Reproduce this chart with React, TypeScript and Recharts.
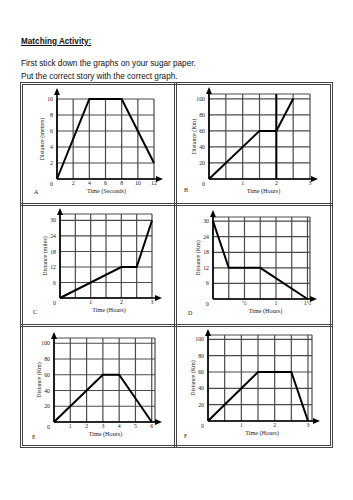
import React from 'react';
import { LineChart, Line, XAxis, YAxis, CartesianGrid, ReferenceLine, Label } from 'recharts';

// Graph A - distance (metres) against time (seconds)
const timeA = [0, 4, 8, 12];
const distanceA = [0, 10, 10, 2];
const xTicksA = [0, 2, 4, 6, 8, 10, 12];
const xLabelsA = ['', '2', '4', '6', '8', '10', '12'];
const yTicksA = [0, 2, 4, 6, 8, 10];
const yLabelsA = ['0', '2', '4', '6', '8', '10'];

// Graph B - distance (Km) against time (hours)
const timeB = [0, 1.5, 2, 2.5];
const distanceB = [0, 60, 60, 100];
const markTimeB = 2;
const xTicksB = [0, 0.5, 1, 1.5, 2, 2.5, 3];
const xLabelsB = ['', '', '1', '', '2', '', '3'];
const yTicksB = [0, 20, 40, 60, 80, 100];
const yLabelsB = ['0', '20', '40', '60', '80', '100'];

// Graph C - distance (miles) against time (hours)
const timeC = [0, 2, 2.5, 3];
const distanceC = [0, 12, 12, 30];
const xTicksC = [0, 0.5, 1, 1.5, 2, 2.5, 3];
const xLabelsC = ['', '', '1', '', '2', '', '3'];
const yTicksC = [0, 6, 12, 18, 24, 30];
const yLabelsC = ['0', '6', '12', '18', '24', '30'];

// Graph D - distance (Km) against time (hours), falling
const timeD = [0, 0.25, 0.75, 1.5];
const distanceD = [30, 12, 12, 0];
const xTicksD = [0, 0.25, 0.5, 0.75, 1, 1.25, 1.5];
const xLabelsD = ['', '', '½', '', '1', '', '1½'];
const yTicksD = [0, 6, 12, 18, 24, 30];
const yLabelsD = ['0', '6', '12', '18', '24', '30'];

// Graph E
const timeE = [0, 3, 4, 6];
const distanceE = [0, 60, 60, 0];
const xTicksE = [0, 1, 2, 3, 4, 5, 6];
const xLabelsE = ['', '1', '2', '3', '4', '5', '6'];
const yTicksE = [0, 20, 40, 60, 80, 100];
const yLabelsE = ['0', '20', '40', '60', '80', '100'];

// Graph F
const timeF = [0, 1.5, 2.5, 3];
const distanceF = [0, 60, 60, 0];
const xTicksF = [0, 0.5, 1, 1.5, 2, 2.5, 3];
const xLabelsF = ['', '', '1', '', '2', '', '3'];
const yTicksF = [0, 20, 40, 60, 80, 100];
const yLabelsF = ['0', '20', '40', '60', '80', '100'];

const serif = '"Liberation Serif", "DejaVu Serif", serif';
const sans = '"Liberation Sans", Arial, sans-serif';

type Graph = {
  letter: string;
  time: number[];
  distance: number[];
  xTicks: number[];
  xLabels: string[];
  yTicks: number[];
  yLabels: string[];
  xMax: number;
  yMax: number;
  yTitle: string;
  xTitle: string;
  titleDx: number;
  // plot box in page pixels
  left: number;
  top: number;
  right: number;
  bottom: number;
  upExt: number;
  rightExt: number;
  mark?: number;
  letterX: number;
  letterY: number;
};

const graphs: Graph[] = [
  {
    letter: 'A', time: timeA, distance: distanceA, xTicks: xTicksA, xLabels: xLabelsA,
    yTicks: yTicksA, yLabels: yLabelsA, xMax: 12, yMax: 10,
    yTitle: 'Distance (metres)', xTitle: 'Time (Seconds)', titleDx: 1,
    left: 57, top: 99, right: 154, bottom: 179, upExt: 11, rightExt: 9, letterX: 34, letterY: 189,
  },
  {
    letter: 'B', time: timeB, distance: distanceB, xTicks: xTicksB, xLabels: xLabelsB,
    yTicks: yTicksB, yLabels: yLabelsB, xMax: 3, yMax: 106,
    yTitle: 'Distance (Km)', xTitle: 'Time (Hours)', titleDx: 4, mark: markTimeB,
    left: 209, top: 94, right: 310, bottom: 179, upExt: 7, rightExt: 8, letterX: 184, letterY: 187,
  },
  {
    letter: 'C', time: timeC, distance: distanceC, xTicks: xTicksC, xLabels: xLabelsC,
    yTicks: yTicksC, yLabels: yLabelsC, xMax: 3, yMax: 32.5,
    yTitle: 'Distance (miles)', xTitle: 'Time (Hours)', titleDx: 3,
    left: 60, top: 214, right: 152, bottom: 298, upExt: 6, rightExt: 10, letterX: 33, letterY: 309,
  },
  {
    letter: 'D', time: timeD, distance: distanceD, xTicks: xTicksD, xLabels: xLabelsD,
    yTicks: yTicksD, yLabels: yLabelsD, xMax: 1.54, yMax: 31.6,
    yTitle: 'Distance (Km)', xTitle: 'Time (Hours)', titleDx: 4,
    left: 213, top: 217, right: 310, bottom: 299, upExt: 7, rightExt: 7, letterX: 188, letterY: 310,
  },
  {
    letter: 'E', time: timeE, distance: distanceE, xTicks: xTicksE, xLabels: xLabelsE,
    yTicks: yTicksE, yLabels: yLabelsE, xMax: 6.2, yMax: 106.7,
    yTitle: 'Distance (Km)', xTitle: 'Time (Hours)', titleDx: 1,
    left: 54, top: 338, right: 155, bottom: 422, upExt: 6, rightExt: 7, letterX: 32, letterY: 434,
  },
  {
    letter: 'F', time: timeF, distance: distanceF, xTicks: xTicksF, xLabels: xLabelsF,
    yTicks: yTicksF, yLabels: yLabelsF, xMax: 3.12, yMax: 105.3,
    yTitle: 'Distance (Km)', xTitle: 'Time (Hours)', titleDx: 2,
    left: 208, top: 335, right: 312, bottom: 421, upExt: 6, rightExt: 8, letterX: 184, letterY: 433,
  },
];

// axis line with a filled arrow head, pushed `ext` pixels past the segment end
const arrow = (ext: number) => (p: any) => {
  const { x1, y1, x2, y2 } = p;
  const len = Math.hypot(x2 - x1, y2 - y1) || 1;
  const dx = (x2 - x1) / len;
  const dy = (y2 - y1) / len;
  const tx = x2 + dx * ext;
  const ty = y2 + dy * ext;
  const bx = tx - dx * 7;
  const by = ty - dy * 7;
  const nx = -dy * 3;
  const ny = dx * 3;
  return (
    <g>
      <line x1={x1} y1={y1} x2={bx} y2={by} stroke="#000" strokeWidth={1.6} />
      <polygon points={`${tx},${ty} ${bx + nx},${by + ny} ${bx - nx},${by - ny}`} fill="#000" />
    </g>
  );
};

const M_LEFT = 9;
const Y_W = 31;
const M_TOP = 16;
const X_H = 23;
const M_RIGHT = 20;
const M_BOTTOM = 4;

function Graph({ g }: { g: Graph }) {
  const data = g.time.map((t, i) => ({ t, d: g.distance[i] }));
  const width = M_LEFT + Y_W + (g.right - g.left) + M_RIGHT;
  const height = M_TOP + (g.bottom - g.top) + X_H + M_BOTTOM;
  const textProps = { fontSize: 5.8, fontFamily: serif, fill: '#222' };

  const xTick = (p: any) => {
    const i = g.xTicks.indexOf(p.payload.value);
    return (
      <text x={p.x} y={p.y} dy="0.71em" textAnchor="middle" {...textProps}>
        {g.xLabels[i]}
      </text>
    );
  };
  const yTick = (p: any) => {
    const i = g.yTicks.indexOf(p.payload.value);
    const y = p.payload.value === 0 ? p.y + 4.5 : p.y;
    return (
      <text x={p.x} y={y} dy="0.35em" textAnchor="end" {...textProps}>
        {g.yLabels[i]}
      </text>
    );
  };

  return (
    <div style={{ position: 'absolute', left: g.left - M_LEFT - Y_W, top: g.top - M_TOP }}>
      <LineChart
        width={width}
        height={height}
        data={data}
        margin={{ top: M_TOP, right: M_RIGHT, bottom: M_BOTTOM, left: M_LEFT }}
      >
        <CartesianGrid stroke="#4a4a4a" strokeWidth={1.2} />
        <XAxis
          dataKey="t"
          type="number"
          domain={[0, g.xMax]}
          ticks={g.xTicks}
          interval={0}
          axisLine={false}
          tickLine={false}
          tickSize={0}
          tickMargin={2}
          height={X_H}
          tick={xTick}
        >
          <Label value={g.xTitle} position="center" dx={g.titleDx} fontSize={6.2} fontFamily={serif} fill="#222" />
        </XAxis>
        <YAxis
          type="number"
          domain={[0, g.yMax]}
          ticks={g.yTicks}
          interval={0}
          axisLine={false}
          tickLine={false}
          tickSize={0}
          tickMargin={4}
          width={Y_W}
          tick={yTick}
        >
          <Label value={g.yTitle} position="center" angle={-90} fontSize={6} fontFamily={serif} fill="#222" />
        </YAxis>
        {g.mark !== undefined && (
          <ReferenceLine x={g.mark} stroke="#000" strokeWidth={2} ifOverflow="visible" />
        )}
        <ReferenceLine
          segment={[{ x: 0, y: 0 }, { x: 0, y: g.yMax }]}
          ifOverflow="visible"
          shape={arrow(g.upExt)}
        />
        <ReferenceLine
          segment={[{ x: 0, y: 0 }, { x: g.xMax, y: 0 }]}
          ifOverflow="visible"
          shape={arrow(g.rightExt)}
        />
        <Line
          type="linear"
          dataKey="d"
          stroke="#000"
          strokeWidth={2}
          dot={false}
          isAnimationActive={false}
        />
      </LineChart>
    </div>
  );
}

const frame = '3px double #444';

export default function App() {
  const text = { position: 'absolute' as const, left: 21, fontFamily: sans, fontSize: 8.2, lineHeight: 1, color: '#111', whiteSpace: 'nowrap' as const };
  return (
    <div style={{ position: 'absolute', left: 0, top: 0, width: 353, height: 500, background: '#fff', overflow: 'hidden' }}>
      <div style={{ ...text, top: 37.5, fontWeight: 'bold', textDecoration: 'underline' }}>Matching Activity:</div>
      <div style={{ ...text, top: 59.5 }}>First stick down the graphs on your sugar paper.</div>
      <div style={{ ...text, top: 72.5 }}>Put the correct story with the correct graph.</div>

      {/* table frame */}
      <div style={{ position: 'absolute', left: 20, top: 82, width: 313, height: 366, boxSizing: 'border-box', border: frame }} />
      <div style={{ position: 'absolute', left: 174, top: 82, width: 0, height: 366, borderLeft: frame }} />
      <div style={{ position: 'absolute', left: 20, top: 203, width: 313, height: 0, borderTop: frame }} />
      <div style={{ position: 'absolute', left: 20, top: 324, width: 313, height: 0, borderTop: frame }} />

      {graphs.map((g) => (
        <React.Fragment key={g.letter}>
          <Graph g={g} />
          <div style={{ position: 'absolute', left: g.letterX, top: g.letterY, fontFamily: serif, fontSize: 6, lineHeight: 1, color: '#222' }}>
            {g.letter}
          </div>
        </React.Fragment>
      ))}
    </div>
  );
}
